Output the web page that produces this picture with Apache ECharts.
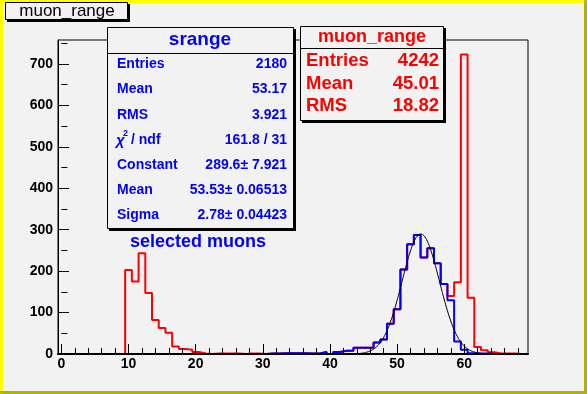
<!DOCTYPE html>
<html>
<head>
<meta charset="utf-8">
<script src="https://cdn.jsdelivr.net/npm/echarts@6/dist/echarts.min.js"></script>
<style>
html,body{margin:0;padding:0;background:#f2f2f2;}
#chart{width:587px;height:394px;}
</style>
</head>
<body>
<div id="chart"></div>
<script>
// ---- data (histogram bins of width 1, first bin centred on 0) ----
const histMin = -0.5;
const binWidth = 1;
const redCounts = [
  0,0,0,0,0,0,0,0,0,0,
  203,175,243,147,82,63,51,18,12,10,
  5,1,0,1,1,1,1,0,1,1,
  0,1,1,2,2,2,2,1,1,5,
  0,5,8,8,15,15,15,28,35,73,
  108,204,265,287,233,255,219,169,140,173,
  723,136,17,9,4,1,1,1,0,0
];
const blueCounts = [
  0,0,0,0,0,0,0,0,0,0,
  0,0,0,0,0,0,0,0,0,0,
  0,0,0,0,0,0,0,0,0,0,
  0,1,1,2,2,2,2,1,1,5,
  0,5,8,8,15,15,15,28,35,73,
  108,204,265,287,233,255,219,169,130,30,
  10,2,1,1,0,0,0,0,0,0
];
// Gaussian fit curve (x, value)
const fitX = [44,44.5,45,45.5,46,46.5,47,47.5,48,48.5,49,49.5,50,50.5,51,51.5,52,52.5,53,53.5,
              54,54.5,55,55.5,56,56.5,57,57.5,58,58.5,59,59.5,60,60.5,61,61.5,62,62.5,63];
const fitY = [0.8,1.5,2.6,4.5,7.4,11.8,18.4,27.6,40.1,56.4,76.8,101.2,129.3,159.9,191.4,221.8,248.9,270.4,284.4,289.6,
              285.5,272.5,251.8,225.3,195.2,163.7,132.9,104.5,79.5,58.6,41.8,28.9,19.3,12.5,7.8,4.8,2.8,1.6,0.9];
const xTickValues = [0,10,20,30,40,50,60];
const xMinorTicks = [2,4,6,8,12,14,16,18,22,24,26,28,32,34,36,38,42,44,46,48,52,54,56,58,62,64,66,68];
const yTickValues = [0,100,200,300,400,500,600,700];
const yMinorTicks = [50,150,250,350,450,550,650,750];
const padTitle = 'muon_range';
const blueTitle = 'srange';
const blueStatNames = ['Entries','Mean','RMS','CHI','Constant','Mean','Sigma'];
const blueStatValues = ['2180','53.17','3.921','161.8 / 31','289.6\u00b1 7.921','53.53\u00b1 0.06513','2.78\u00b1 0.04423'];
const redTitle = 'muon_range';
const redStatNames = ['Entries','Mean','RMS'];
const redStatValues = ['4242','45.01','18.82'];
const annotation = 'selected muons';

// ---- helpers ----
function stepPoints(counts){
  const pts = [];
  for (let i = 0; i < counts.length; i++) pts.push([histMin + i*binWidth, counts[i]]);
  pts.push([histMin + counts.length*binWidth, 0]);
  return pts;
}
const FONT = '"Liberation Sans", Arial, Helvetica, sans-serif';
const BG = '#f2f2f2';
const BLUE = '#0000ff';
const RED = '#ff0000';

function boxWithShadow(x, y, w, h, s){
  return [
    {type:'rect', shape:{x:x+s, y:y+s, width:w, height:h}, style:{fill:'#000'}, z:100},
    {type:'rect', shape:{x:x+0.5, y:y+0.5, width:w-1, height:h-1}, style:{fill:BG, stroke:'#000', lineWidth:1}, z:101}
  ];
}
function txt(text, x, y, font, color, align){
  return {type:'text', z:102, style:{text:text, x:x, y:y, font:font, fill:color,
          textAlign:align||'left', textVerticalAlign:'middle'}};
}
function hline(x1, x2, y){
  return {type:'line', z:102, shape:{x1:x1, y1:y+0.5, x2:x2, y2:y+0.5}, style:{stroke:'#000', lineWidth:1}};
}

const graphics = [];
// pad border
graphics.push({type:'rect', shape:{x:0,y:0,width:587,height:3}, style:{fill:'#ffff00'}, z:90});
graphics.push({type:'rect', shape:{x:0,y:0,width:3,height:394}, style:{fill:'#ffff00'}, z:90});
graphics.push({type:'rect', shape:{x:0,y:391,width:587,height:3}, style:{fill:'#b0b000'}, z:91});
graphics.push({type:'rect', shape:{x:584,y:0,width:3,height:394}, style:{fill:'#b0b000'}, z:91});
// title box
graphics.push(...boxWithShadow(5, 2, 123, 18, 2));
graphics.push(txt(padTitle, 67, 11.5, '17px ' + FONT, '#000', 'center'));
// blue stats box
graphics.push(...boxWithShadow(107, 27, 187, 202, 2));
graphics.push(txt(blueTitle, 200, 40, 'bold 19px ' + FONT, BLUE, 'center'));
graphics.push(hline(107, 293, 53));
blueStatNames.forEach((n, i) => {
  const y = 64.5 + i*25.1;
  if (n === 'CHI') {
    graphics.push(txt('\u03c7', 116, y + 1, 'italic bold 15px ' + FONT, BLUE, 'left'));
    graphics.push(txt('2', 123, y - 6, 'bold 9px ' + FONT, BLUE, 'left'));
    graphics.push(txt('/ ndf', 131, y, 'bold 14px ' + FONT, BLUE, 'left'));
  } else {
    graphics.push(txt(n, 117, y, 'bold 14px ' + FONT, BLUE, 'left'));
  }
  graphics.push(txt(blueStatValues[i], 287, y, 'bold 14px ' + FONT, BLUE, 'right'));
});
// red stats box
graphics.push(...boxWithShadow(300, 26, 144, 95, 2));
graphics.push(txt(redTitle, 372, 37, 'bold 18px ' + FONT, RED, 'center'));
graphics.push(hline(300, 443, 48));
redStatNames.forEach((n, i) => {
  const y = 61 + i*22.6;
  graphics.push(txt(n, 306, y, 'bold 18.5px ' + FONT, RED, 'left'));
  graphics.push(txt(redStatValues[i], 439, y, 'bold 18.5px ' + FONT, RED, 'right'));
});
// annotation
graphics.push(txt(annotation, 130, 242, 'bold 18px ' + FONT, BLUE, 'left'));

const chart = echarts.init(document.getElementById('chart'), null, {renderer:'canvas'});
const axisLabelStyle = {color:'#000', fontWeight:'bold', fontSize:14, fontFamily:FONT};
chart.setOption({
  animation:false,
  backgroundColor:BG,
  grid:{left:58, top:40, right:59, bottom:40, show:true, borderColor:'#000', borderWidth:1, backgroundColor:'transparent'},
  xAxis:[
    {type:'value', min:-0.5, max:69.5, position:'bottom', z:5,
     axisLine:{show:true, onZero:false, lineStyle:{color:'#000', width:2}},
     axisTick:{show:true, inside:true, length:10, customValues:xTickValues, lineStyle:{color:'#000', width:1}},
     axisLabel:Object.assign({customValues:xTickValues, margin:3}, axisLabelStyle),
     splitLine:{show:false}},
    {type:'value', min:-0.5, max:69.5, position:'bottom', z:5,
     axisLine:{show:false},
     axisTick:{show:true, inside:true, length:6, customValues:xMinorTicks, lineStyle:{color:'#000', width:1}},
     axisLabel:{show:false}, splitLine:{show:false}}
  ],
  yAxis:[
    {type:'value', min:0, max:758, position:'left', z:5,
     axisLine:{show:true, onZero:false, lineStyle:{color:'#000', width:1}},
     axisTick:{show:true, inside:true, length:11, customValues:yTickValues, lineStyle:{color:'#000', width:1}},
     axisLabel:Object.assign({customValues:yTickValues, margin:5}, axisLabelStyle),
     splitLine:{show:false}},
    {type:'value', min:0, max:758, position:'left', z:5,
     axisLine:{show:false},
     axisTick:{show:true, inside:true, length:6, customValues:yMinorTicks, lineStyle:{color:'#000', width:1}},
     axisLabel:{show:false}, splitLine:{show:false}}
  ],
  series:[
    {name:'muon_range', type:'line', step:'end', xAxisIndex:0, yAxisIndex:0, data:stepPoints(redCounts),
     showSymbol:false, silent:true, z:2, lineStyle:{color:RED, width:2}},
    {name:'srange', type:'line', step:'end', xAxisIndex:0, yAxisIndex:0, data:stepPoints(blueCounts),
     showSymbol:false, silent:true, z:3, lineStyle:{color:BLUE, width:2}},
    {name:'fit', type:'line', smooth:true, xAxisIndex:0, yAxisIndex:0,
     data:fitX.map((x, i) => [x, fitY[i]]),
     showSymbol:false, silent:true, z:4, lineStyle:{color:'#000', width:1}}
  ],
  graphic:graphics
});
</script>
</body>
</html>
